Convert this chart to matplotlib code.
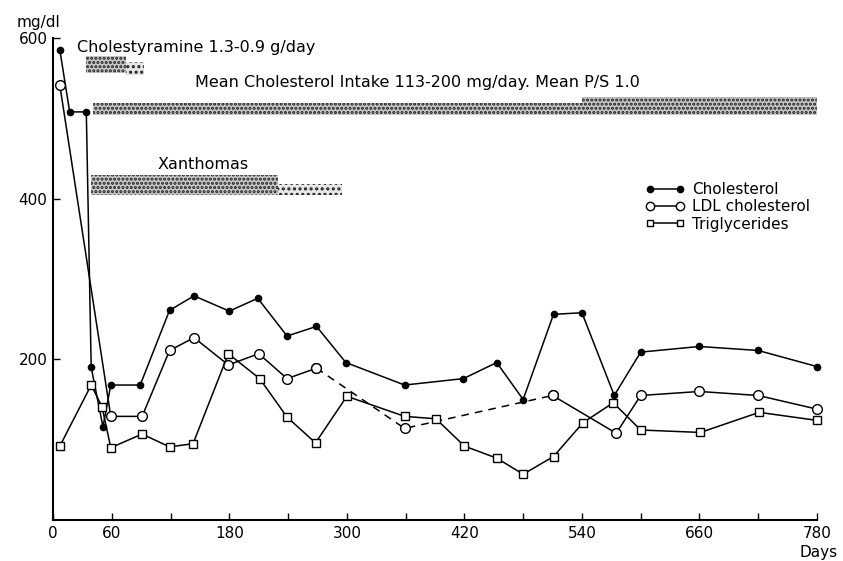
import matplotlib.pyplot as plt
from matplotlib.lines import Line2D

# days / values
chol_days = [7, 17, 34, 39, 51, 59, 89, 119, 144, 180, 209, 239, 269, 299,
             359, 419, 453, 480, 511, 540, 573, 600, 660, 720, 780]
chol_vals = [585, 508, 508, 190, 116, 168, 168, 261, 279, 260, 276, 229, 241, 196,
             168, 176, 196, 150, 256, 258, 155, 209, 216, 211, 191]

ldl_days = [7, 59, 91, 119, 144, 179, 210, 239, 269, 359, 510, 575, 600, 660, 720, 780]
ldl_vals = [541, 129, 129, 211, 227, 193, 207, 176, 189, 114, 155, 108, 155, 160, 155, 138]

tg_days = [7, 39, 50, 59, 91, 119, 143, 179, 211, 239, 268, 300, 359, 391,
           420, 453, 480, 511, 541, 572, 600, 661, 721, 780]
tg_vals = [92, 168, 141, 90, 107, 91, 95, 207, 176, 128, 96, 154, 129, 126,
           92, 77, 57, 79, 121, 146, 112, 109, 134, 124]

# treatment bars: (start day, end day, low, high)
bar_resin = [(34, 75, 556, 577), (75, 93, 554, 570)]
bar_intake = [(41, 540, 504, 519), (540, 780, 504, 527)]
bar_xanth = [(39, 230, 404, 429), (230, 295, 405, 418)]

x_ticks = [0, 60, 120, 180, 240, 300, 360, 420, 480, 540, 600, 660, 720, 780]
x_labels = ['0', '60', '', '180', '', '300', '', '420', '', '540', '', '660', '', '780']
y_ticks = [200, 400, 600]

plt.rcParams['font.family'] = ['DejaVu Sans']
plt.rcParams['hatch.linewidth'] = 1.5

fig = plt.figure(figsize=(8.43, 5.61), dpi=100)
ax = fig.add_axes([53 / 843, 41 / 561, 764 / 843, 482 / 561])


def draw_bars(bars, styles):
    for (a, b, lo, hi), (h, fc) in zip(bars, styles):
        ax.fill_between([a, b], lo, hi, facecolor=fc, edgecolor='#222222',
                        hatch=h, linewidth=0)


dense = ('....', '#c8c8c8')
light = ('...', '#e6e6e6')
draw_bars(bar_resin, [dense, light])
draw_bars(bar_intake, [dense, dense])
draw_bars(bar_xanth, [dense, light])

ln = dict(color='black', lw=1.1, clip_on=False)

# cholesterol
ax.plot(chol_days, chol_vals, marker='o', ms=4.5, mfc='black', mec='black', **ln)

# LDL: dashed between day 269 and day 510
ax.plot(ldl_days[:9], ldl_vals[:9], marker='o', ms=7, mfc='white', mec='black', zorder=3, **ln)
ax.plot(ldl_days[8:11], ldl_vals[8:11], ls=(0, (5, 4)), marker='o', ms=7, mfc='white',
        mec='black', zorder=3, **ln)
ax.plot(ldl_days[10:], ldl_vals[10:], marker='o', ms=7, mfc='white', mec='black', zorder=3, **ln)

# triglycerides
ax.plot(tg_days, tg_vals, marker='s', ms=6, mfc='white', mec='black', zorder=3, **ln)

ax.set_xlim(0, 780)
ax.set_ylim(0, 600)
ax.set_xticks(x_ticks)
ax.set_xticklabels(x_labels)
ax.set_yticks(y_ticks)
ax.tick_params(direction='in', length=5, width=1, labelsize=11, pad=4)
for s in ['top', 'right']:
    ax.spines[s].set_visible(False)
for s in ['left', 'bottom']:
    ax.spines[s].set_linewidth(1.5)

ax.text(24, 588, 'Cholestyramine 1.3-0.9 g/day', fontsize=11.5, va='center')
ax.text(145, 545, 'Mean Cholesterol Intake 113-200 mg/day. Mean P/S 1.0', fontsize=11.5,
        va='center')
ax.text(107, 442, 'Xanthomas', fontsize=11.5, va='center')
fig.text(39 / 843, 1 - 23 / 561, 'mg/dl', fontsize=11, ha='center', va='center')
fig.text(838 / 843, 1 - 552 / 561, 'Days', fontsize=11, ha='right', va='center')

handles = [
    Line2D([], [], color='black', lw=1.1, marker='o', ms=4.5, mfc='black'),
    Line2D([], [], color='black', lw=1.1, marker='o', ms=6, mfc='white'),
    Line2D([], [], color='black', lw=1.1, marker='s', ms=5, mfc='white'),
]
fig.legend(handles, ['Cholesterol', 'LDL cholesterol', 'Triglycerides'],
           numpoints=2, frameon=False, loc='upper left', fontsize=11,
           bbox_to_anchor=(645 / 843, 1 - 182 / 561), borderpad=0,
           handlelength=2.6, handletextpad=0.5, labelspacing=0.15, borderaxespad=0)

fig.savefig('out.png', dpi=100)
